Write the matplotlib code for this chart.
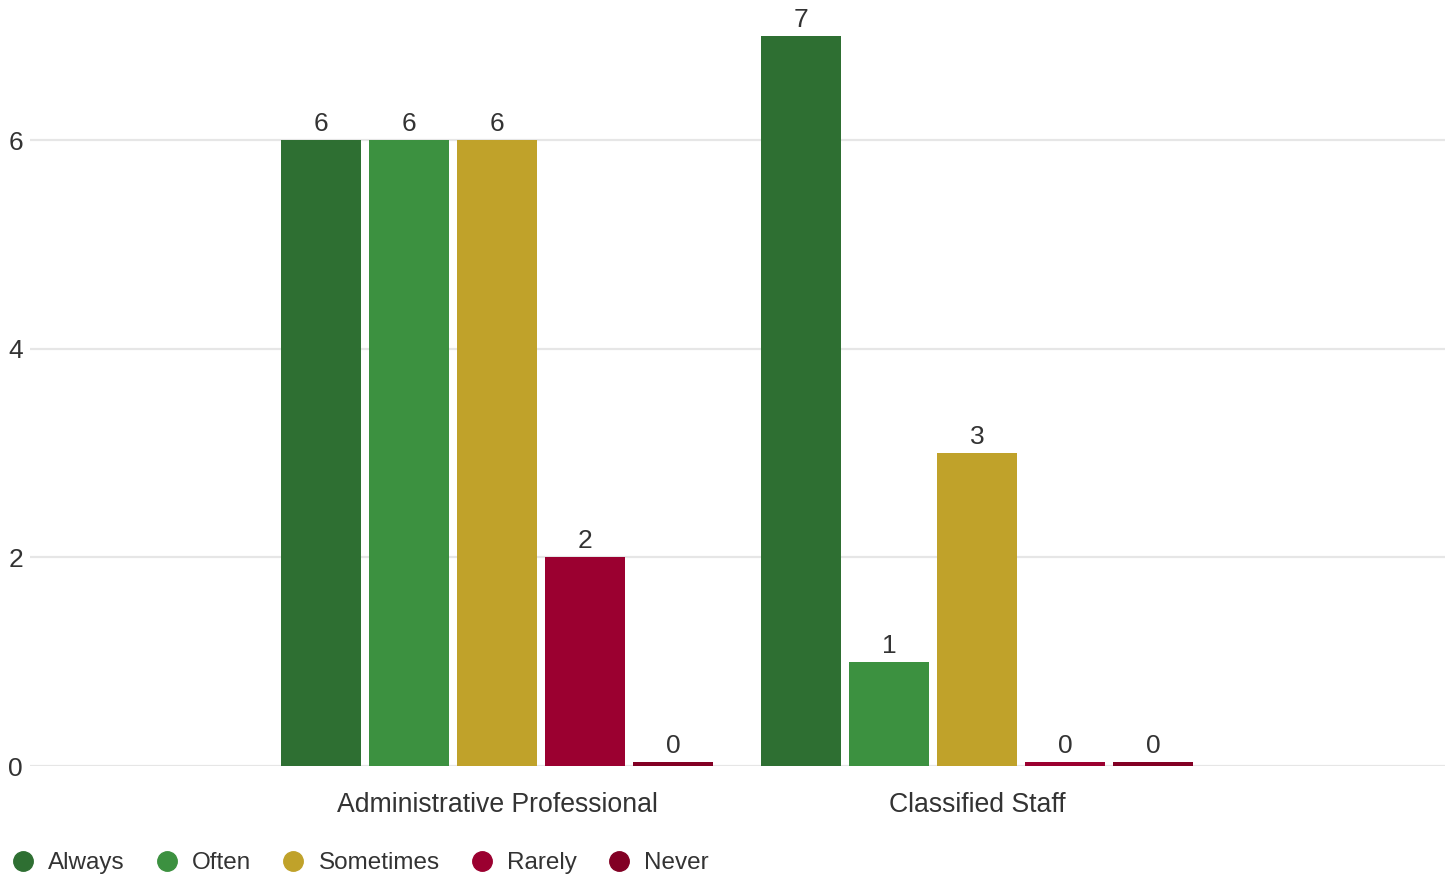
import matplotlib.pyplot as plt
from matplotlib.lines import Line2D
import numpy as np

# data
categories = ['Administrative Professional', 'Classified Staff']
series = ['Always', 'Often', 'Sometimes', 'Rarely', 'Never']
values = {
    'Always':    [6, 7],
    'Often':     [6, 1],
    'Sometimes': [6, 3],
    'Rarely':    [2, 0],
    'Never':     [0, 0],
}
colors = ['#2e6f32', '#3c9140', '#c0a22a', '#9b0030', '#820024']
yticks = [0, 2, 4, 6]

plt.rcParams['font.family'] = ['Liberation Sans', 'DejaVu Sans']

W, H = 1455, 880
fig = plt.figure(figsize=(W / 100, H / 100), dpi=100)
ax = fig.add_axes([30 / W, 114 / H, (1445 - 30) / W, (766 - 36) / H])

x = np.arange(len(categories))
step = 88 / 480
width = 80 / 480
min_h = 0.038  # zero bars still show as a thin strip

for i, (name, col) in enumerate(zip(series, colors)):
    vals = np.array(values[name], dtype=float)
    pos = x + (i - 2) * step
    ax.bar(pos, np.maximum(vals, min_h), width, color=col, zorder=2)
    for px, v in zip(pos, vals):
        ax.annotate(f'{int(v)}', (px, max(v, min_h)), xytext=(0, 3),
                    textcoords='offset points', ha='center', va='bottom',
                    fontsize=19, color='#333333', annotation_clip=False)

ax.set_xlim((30 - 497) / 480, (1445 - 497) / 480)
ax.set_ylim(0, 7)
ax.set_yticks(yticks)
ax.set_xticks(x)
ax.set_xticklabels(categories)
ax.tick_params(axis='x', length=0, pad=19, labelsize=19.2, labelcolor='#333333')
ax.tick_params(axis='y', length=0, pad=5, labelsize=19, labelcolor='#333333')
ax.grid(axis='y', color='#e6e6e6', linewidth=1.6, zorder=0)
for s in ax.spines.values():
    s.set_visible(False)

handles = [Line2D([], [], marker='o', linestyle='none', markersize=14,
                  markerfacecolor=c, markeredgecolor=c) for c in colors]
fig.legend(handles, series, loc='center left', bbox_to_anchor=(8 / W, 17 / H),
           ncol=5, frameon=False, fontsize=17.5, labelcolor='#333333',
           handletextpad=0.45, columnspacing=1.12, handlelength=1.2,
           borderaxespad=0, borderpad=0)

fig.savefig('out.png', dpi=100)
